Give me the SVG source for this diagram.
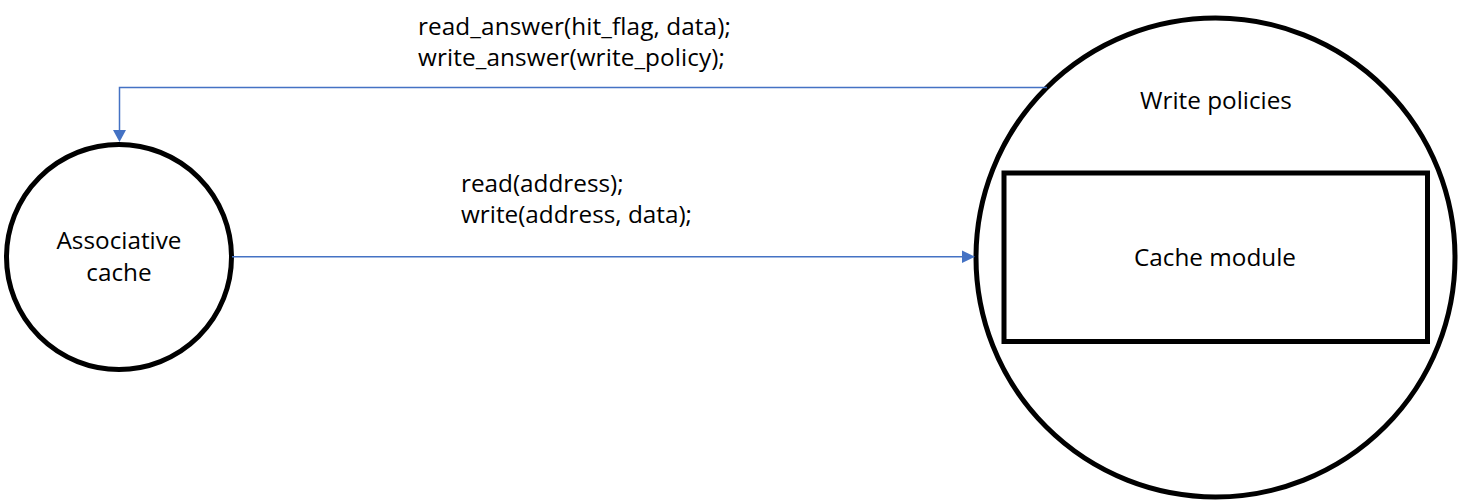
<svg xmlns="http://www.w3.org/2000/svg" width="1462" height="501" viewBox="0 0 1462 501">
<style>
.shape{fill:#fff;stroke:#000;stroke-width:5}
.lbl{font-family:"Open Sans","Noto Sans",sans-serif;font-size:24.3px;fill:#000}
.code{letter-spacing:0.1px}
.conn{fill:none;stroke:#4472C4;stroke-width:1.5}
.head{fill:#4472C4}
</style>
<rect width="1462" height="501" fill="#fff"/>
<g id="associative-cache">
<circle class="shape" cx="119" cy="257" r="112.5"/>
<text class="lbl" text-anchor="middle"><tspan x="119" y="249">Associative</tspan><tspan x="119" y="281">cache</tspan></text>
</g>
<g id="write-policies">
<circle class="shape" cx="1215.5" cy="257.5" r="239.5"/>
<text class="lbl" x="1216" y="109" text-anchor="middle">Write policies</text>
</g>
<g id="cache-module">
<rect class="shape" x="1004" y="173" width="423.5" height="168.5"/>
<text class="lbl" x="1215" y="266" text-anchor="middle">Cache module</text>
</g>
<g id="connectors">
<path class="conn" d="M1047,87.5 L119.5,87.5 L119.5,132"/>
<path class="head" d="M113,130 L126,130 L119.5,142 Z"/>
<path class="conn" d="M232,256.7 L963,256.7"/>
<path class="head" d="M962,250.5 L975,256.7 L962,263 Z"/>
<text class="lbl code"><tspan x="418" y="35">read_answer(hit_flag, data);</tspan><tspan x="418" y="66">write_answer(write_policy);</tspan></text>
<text class="lbl"><tspan x="461" y="192">read(address);</tspan><tspan x="461" y="223">write(address, data);</tspan></text>
</g>
</svg>
